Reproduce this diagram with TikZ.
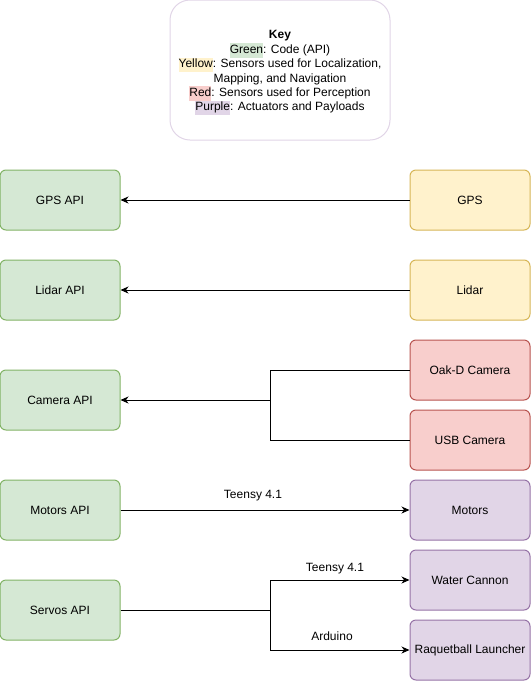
\documentclass[tikz,border=0pt]{standalone}
\usepackage{fontspec}
\setmainfont{Liberation Sans}
\usetikzlibrary{arrows.meta}
\definecolor{gfill}{HTML}{D5E8D4}
\definecolor{gline}{HTML}{82B366}
\definecolor{yfill}{HTML}{FFF2CC}
\definecolor{yline}{HTML}{D6B656}
\definecolor{rfill}{HTML}{F8CECC}
\definecolor{rline}{HTML}{B85450}
\definecolor{pfill}{HTML}{E1D5E7}
\definecolor{pline}{HTML}{9673A6}
\definecolor{keyline}{HTML}{E1D5E7}
\setlength{\fboxsep}{0pt}
\newcommand{\hl}[2]{\colorbox{#1}{\strut #2}}
\begin{document}
\begin{tikzpicture}[x=1pt,y=-1pt,
  every node/.style={font=\fontsize{12}{14.4}\selectfont},
  box/.style={draw, rounded corners=6pt, minimum width=120pt, minimum height=60pt, line width=1pt, inner sep=0pt, align=center},
  gbox/.style={box, fill=gfill, draw=gline},
  ybox/.style={box, fill=yfill, draw=yline},
  rbox/.style={box, fill=rfill, draw=rline},
  pbox/.style={box, fill=pfill, draw=pline},
  arr/.style={line width=1pt, -{Stealth[length=8pt,width=7pt,inset=2.5pt]}},
  conn/.style={line width=1pt}]
\useasboundingbox (0,0) rectangle (531,681);
% key
\node[draw=keyline, fill=white, line width=1pt, rounded corners=20pt, minimum width=220pt, minimum height=140pt] (keybox) at (280,70) {};
\node[align=center, inner sep=0pt] (keytext) at (280,73) {\textbf{Key}\\
\hl{gfill}{Green}: Code (API)\\
\hl{yfill}{Yellow}: Sensors used for Localization,\\
Mapping, and Navigation\\
\hl{rfill}{Red}: Sensors used for Perception\\
\hl{pfill}{Purple}: Actuators and Payloads};
% left
\node[gbox] (gpsapi) at (60,200) {GPS API};
\node[gbox] (lidarapi) at (60,290) {Lidar API};
\node[gbox] (camapi) at (60,400) {Camera API};
\node[gbox] (motapi) at (60,510) {Motors API};
\node[gbox] (servapi) at (60,610) {Servos API};
% right
\node[ybox] (gps) at (470,200) {GPS};
\node[ybox] (lidar) at (470,290) {Lidar};
\node[rbox] (oak) at (470,370) {Oak-D Camera};
\node[rbox] (usb) at (470,440) {USB Camera};
\node[pbox] (motors) at (470,510) {Motors};
\node[pbox] (water) at (470,580) {Water Cannon};
\node[pbox] (raq) at (470,650) {Raquetball Launcher};
% connectors
\draw[arr] (gps.west) -- (gpsapi.east);
\draw[arr] (lidar.west) -- (lidarapi.east);
\coordinate (cj) at (270,400);
\draw[conn] (oak.west) -| (cj);
\draw[conn] (usb.west) -| (cj);
\draw[arr] (cj) -- (camapi.east);
\draw[arr] (motapi.east) -- (motors.west);
\node (t1) at (253,496) {Teensy 4.1};
\coordinate (sj) at (270,610);
\draw[conn] (servapi.east) -- (sj);
\draw[arr] (sj) |- (water.west);
\draw[arr] (sj) |- (raq.west);
\node (t2) at (335,569) {Teensy 4.1};
\node (t3) at (332,636) {Arduino};
\end{tikzpicture}
\end{document}
